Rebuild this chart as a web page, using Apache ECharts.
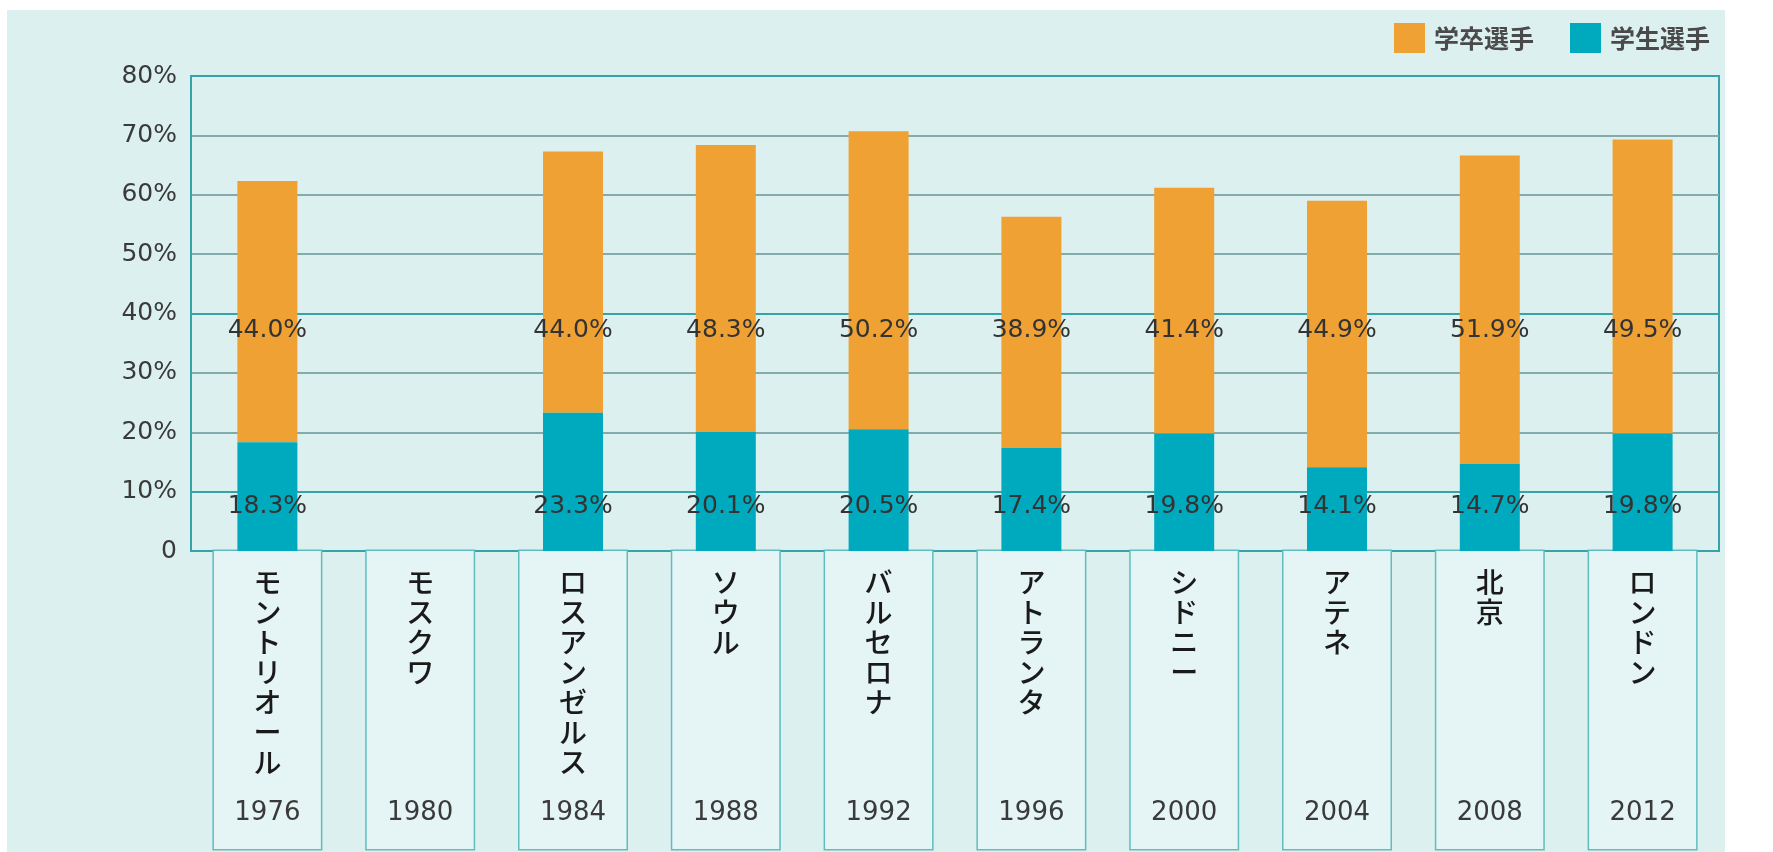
<!DOCTYPE html>
<html>
<head>
<meta charset="utf-8">
<script src="https://cdn.jsdelivr.net/npm/echarts@6/dist/echarts.min.js"></script>
<style>
  html, body { margin: 0; padding: 0; background: #ffffff; width: 1773px; height: 852px; overflow: hidden; }
  #c { position: absolute; left: 7px; top: 10px; width: 1718px; height: 842px; background: #ddf0f0; }
</style>
</head>
<body>
<div id="c"></div>
<script>
// ---- data ----
const years = ['1976', '1980', '1984', '1988', '1992', '1996', '2000', '2004', '2008', '2012'];
const cities = ['モントリオール', 'モスクワ', 'ロスアンゼルス', 'ソウル', 'バルセロナ', 'アトランタ', 'シドニー', 'アテネ', '北京', 'ロンドン'];
const studentAthletes = [18.3, null, 23.3, 20.1, 20.5, 17.4, 19.8, 14.1, 14.7, 19.8];   // 学生選手
const graduateAthletes = [44.0, null, 44.0, 48.3, 50.2, 38.9, 41.4, 44.9, 51.9, 49.5];  // 学卒選手
const seriesNames = ['学卒選手', '学生選手'];
const yMin = 0, yMax = 80, yStep = 10;

const ORANGE = '#f0a133';
const TEAL = '#00aabe';
const LINE_STRONG = '#36a3a8';
const LINE_SOFT = '#84abab';

function pct(v) { return (v == null) ? '' : v.toFixed(1) + '%'; }

const chart = echarts.init(document.getElementById('c'), null, { renderer: 'canvas' });

const option = {
  backgroundColor: '#ddf0f0',
  animation: false,
  legend: {
    data: seriesNames,
    right: 10,
    top: 8,
    itemWidth: 31,
    itemHeight: 30,
    itemGap: 36,
    icon: 'rect',
    textStyle: {
      fontFamily: 'Noto Sans CJK JP',
      fontSize: 25,
      fontWeight: 'bold',
      color: '#4a4a4a',
      padding: [0, 0, 0, 4]
    }
  },
  grid: {
    left: 184,
    right: 6,
    top: 66,
    bottom: 301,
    show: true,
    borderColor: LINE_STRONG,
    borderWidth: 2,
    backgroundColor: 'transparent'
  },
  xAxis: {
    type: 'category',
    data: years,
    axisLine: { show: true, lineStyle: { color: LINE_STRONG, width: 2 } },
    axisTick: { show: false },
    splitLine: { show: false },
    axisLabel: {
      interval: 0,
      margin: 0,
      width: 107,
      align: 'center',
      verticalAlign: 'top',
      padding: [16, 0, 0, 0],
      backgroundColor: '#e5f4f4',
      borderColor: '#5fbdbf',
      borderWidth: 1.5,
      formatter: function (val, idx) {
        const chars = Array.from(cities[idx]);
        const lines = [];
        for (let i = 0; i < 7; i++) {
          lines.push(i < chars.length ? '{n|' + chars[i] + '}' : '{n| }');
        }
        lines.push('{y|' + years[idx] + '}');
        return lines.join('\n');
      },
      rich: {
        n: { fontFamily: 'Noto Sans CJK JP', fontSize: 28, fontWeight: 500, lineHeight: 30, color: '#1a1a1a', align: 'center' },
        y: { fontFamily: 'DejaVu Sans', fontSize: 26, lineHeight: 72, color: '#3a3a3a', align: 'center' }
      }
    }
  },
  yAxis: {
    type: 'value',
    min: yMin,
    max: yMax,
    interval: yStep,
    axisLine: { show: true, lineStyle: { color: LINE_STRONG, width: 2 } },
    axisTick: { show: false },
    axisLabel: {
      margin: 14,
      fontFamily: 'DejaVu Sans',
      fontSize: 25,
      color: '#3a3a3a',
      formatter: function (v) { return v === 0 ? '0' : v + '%'; }
    },
    splitLine: {
      show: true,
      lineStyle: {
        width: 2,
        color: [LINE_STRONG, LINE_STRONG, LINE_SOFT, LINE_SOFT, LINE_STRONG, LINE_SOFT, LINE_SOFT, LINE_SOFT, LINE_STRONG]
      }
    }
  },
  series: [
    {
      name: seriesNames[1],
      type: 'bar',
      stack: 'total',
      barWidth: 60,
      z: 3,
      data: studentAthletes,
      itemStyle: { color: TEAL },
      label: {
        show: true,
        position: 'insideBottom',
        distance: 30,
        color: '#333333',
        textBorderWidth: 0,
        formatter: function (p) {
          return '{a|' + pct(graduateAthletes[p.dataIndex]) + '}\n{s| }\n{b|' + pct(p.value) + '}';
        },
        rich: {
          a: { fontFamily: 'DejaVu Sans', fontSize: 25, lineHeight: 30, color: '#333333', textBorderWidth: 0 },
          s: { fontSize: 10, lineHeight: 146 },
          b: { fontFamily: 'DejaVu Sans', fontSize: 25, lineHeight: 30, color: '#333333', textBorderWidth: 0 }
        }
      }
    },
    {
      name: seriesNames[0],
      type: 'bar',
      stack: 'total',
      barWidth: 60,
      z: 2,
      data: graduateAthletes,
      itemStyle: { color: ORANGE }
    }
  ]
};

chart.setOption(option);
</script>
</body>
</html>
